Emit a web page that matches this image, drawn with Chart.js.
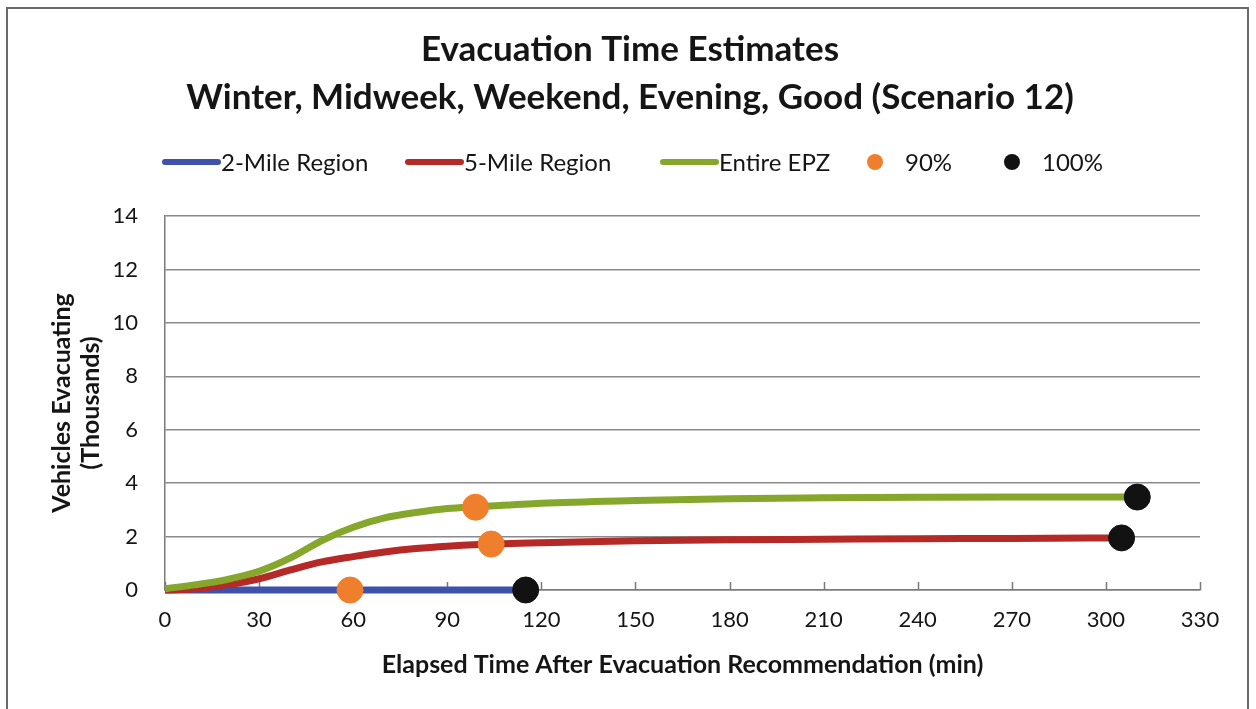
<!DOCTYPE html>
<html>
<head>
<meta charset="utf-8">
<script src="https://cdn.jsdelivr.net/npm/chart.js@4/dist/chart.umd.min.js"></script>
<style>
  html, body { margin: 0; padding: 0; background: #fff; }
  #wrap { width: 1256px; height: 709px; position: relative; }
</style>
</head>
<body>
<div id="wrap"><canvas id="c" width="1256" height="709"></canvas></div>
<script>
// Elapsed time (min) and vehicles evacuating (thousands) per region
const timeTwoMile = [0, 30, 60, 90, 115];
const valTwoMile  = [0, 0, 0, 0, 0];

const timeFiveMile = [0, 10, 20, 30, 40, 50, 60, 70, 80, 90, 100, 120, 150, 180, 210, 240, 270, 305];
const valFiveMile  = [0, 0.05, 0.2, 0.42, 0.75, 1.05, 1.25, 1.42, 1.55, 1.64, 1.7, 1.77, 1.84, 1.88, 1.9, 1.92, 1.93, 1.95];

const timeEpz = [0, 10, 20, 30, 40, 50, 60, 70, 80, 90, 100, 120, 150, 180, 210, 240, 270, 310];
const valEpz  = [0.05, 0.2, 0.4, 0.7, 1.2, 1.85, 2.35, 2.7, 2.9, 3.05, 3.12, 3.25, 3.35, 3.42, 3.45, 3.47, 3.48, 3.48];

// 90% and 100% completion markers
const time90 = [59, 99, 104];
const val90  = [0, 3.1, 1.72];
const time100 = [115, 305, 310];
const val100  = [0, 1.95, 3.48];

const xTicks = [0, 30, 60, 90, 120, 150, 180, 210, 240, 270, 300, 330];
const yTicks = [0, 2, 4, 6, 8, 10, 12, 14];

const titleLines = ['Evacuation Time Estimates', 'Winter, Midweek, Weekend, Evening, Good (Scenario 12)'];
const legendNames = ['2-Mile Region', '5-Mile Region', 'Entire EPZ', '90%', '100%'];

const BLUE = '#3f52ab', RED = '#b52a26', GREEN = '#84a72c', ORANGE = '#f07f2d', BLACK = '#121212';
const FONT = "Lato, 'Open Sans', sans-serif";
const INK = '#151515';

const pts = (xs, ys) => xs.map((x, i) => ({ x: x, y: ys[i] }));

// outer frame, title, inner x-axis ticks and legend
const decor = {
  id: 'decor',
  beforeDraw(chart) {
    const ctx = chart.ctx;
    ctx.save();
    ctx.fillStyle = '#fff';
    ctx.fillRect(0, 0, chart.width, chart.height);
    ctx.strokeStyle = '#6b6b6b';
    ctx.lineWidth = 2;
    ctx.strokeRect(7, 8, 1241, 720);
    ctx.restore();
  },
  beforeDatasetsDraw(chart) {
    const ctx = chart.ctx;
    const xs = chart.scales.x;
    const bottom = chart.chartArea.bottom;
    ctx.save();
    ctx.strokeStyle = '#7a7a7a';
    ctx.lineWidth = 1.5;
    xTicks.forEach(t => {
      const px = Math.round(xs.getPixelForValue(t)) + 0.5;
      ctx.beginPath();
      ctx.moveTo(px, bottom);
      ctx.lineTo(px, bottom - 8);
      ctx.stroke();
    });
    ctx.restore();
  },
  afterDraw(chart) {
    const ctx = chart.ctx;
    ctx.save();
    // two-line heading, centred in the frame
    ctx.font = 'bold 35px ' + FONT;
    ctx.fillStyle = INK;
    ctx.textAlign = 'center';
    ctx.textBaseline = 'middle';
    titleLines.forEach((line, i) => ctx.fillText(line, 630, 50 + i * 48));

    // legend row
    const y = 162;
    const starts = [162, 405, 660, 867, 1004];
    const kinds = ['line', 'line', 'line', 'dot', 'dot'];
    const colors = [BLUE, RED, GREEN, ORANGE, BLACK];
    ctx.textAlign = 'left';
    ctx.font = '24px ' + FONT;
    legendNames.forEach((name, i) => {
      const x0 = starts[i];
      if (kinds[i] === 'line') {
        ctx.strokeStyle = colors[i];
        ctx.lineWidth = 6;
        ctx.lineCap = 'round';
        ctx.beginPath();
        ctx.moveTo(x0 + 3, y);
        ctx.lineTo(x0 + 56, y);
        ctx.stroke();
        ctx.fillStyle = INK;
        ctx.fillText(name, x0 + 59, y + 1);
      } else {
        ctx.fillStyle = colors[i];
        ctx.beginPath();
        ctx.arc(x0 + 8, y, 8, 0, Math.PI * 2);
        ctx.fill();
        ctx.fillStyle = INK;
        ctx.fillText(name, x0 + 38, y + 1);
      }
    });
    ctx.restore();
  }
};

new Chart(document.getElementById('c'), {
  type: 'scatter',
  data: {
    datasets: [
      { label: '90%', data: pts(time90, val90), backgroundColor: ORANGE, borderColor: ORANGE,
        pointRadius: 13, pointHoverRadius: 13, showLine: false, clip: false, order: 1 },
      { label: '100%', data: pts(time100, val100), backgroundColor: BLACK, borderColor: BLACK,
        pointRadius: 13, pointHoverRadius: 13, showLine: false, clip: false, order: 0 },
      { label: 'Entire EPZ', data: pts(timeEpz, valEpz), borderColor: GREEN, backgroundColor: GREEN,
        showLine: true, borderWidth: 7, pointRadius: 0, cubicInterpolationMode: 'monotone', clip: false, order: 2 },
      { label: '5-Mile Region', data: pts(timeFiveMile, valFiveMile), borderColor: RED, backgroundColor: RED,
        showLine: true, borderWidth: 7, pointRadius: 0, cubicInterpolationMode: 'monotone', clip: false, order: 3 },
      { label: '2-Mile Region', data: pts(timeTwoMile, valTwoMile), borderColor: BLUE, backgroundColor: BLUE,
        showLine: true, borderWidth: 7, pointRadius: 0, cubicInterpolationMode: 'monotone', clip: false, order: 4 }
    ]
  },
  options: {
    responsive: false,
    animation: false,
    events: [],
    layout: { padding: { left: 0, right: 56, top: 216, bottom: 0 } },
    plugins: {
      legend: { display: false },
      tooltip: { enabled: false },
      title: { display: false }
    },
    scales: {
      x: {
        type: 'linear',
        min: 0, max: 330,
        afterBuildTicks(scale) { scale.ticks = xTicks.map(v => ({ value: v })); },
        afterFit(scale) { scale.height = 119; },
        grid: { display: false, drawTicks: false },
        border: { display: true, color: '#7a7a7a', width: 1.5 },
        ticks: { color: INK, font: { family: FONT, size: 22 }, padding: 17, maxRotation: 0 },
        title: {
          display: true,
          text: 'Elapsed Time After Evacuation Recommendation (min)',
          color: INK,
          font: { family: FONT, size: 25, weight: 'bold' },
          padding: { top: 0, bottom: 29 }
        }
      },
      y: {
        type: 'linear',
        min: 0, max: 14,
        afterBuildTicks(scale) { scale.ticks = yTicks.map(v => ({ value: v })); },
        afterFit(scale) { scale.width = 165; },
        grid: { color: '#8a8a8a', lineWidth: 1.5, drawTicks: false },
        border: { display: true, color: '#7a7a7a', width: 1.5 },
        ticks: { color: INK, font: { family: FONT, size: 22 }, padding: 27 },
        title: {
          display: true,
          text: ['Vehicles Evacuating', '(Thousands)'],
          color: INK,
          font: { family: FONT, size: 25, weight: 'bold', lineHeight: 1.16 },
          padding: { top: 47, bottom: 0 }
        }
      }
    }
  },
  plugins: [decor]
});
</script>
</body>
</html>
